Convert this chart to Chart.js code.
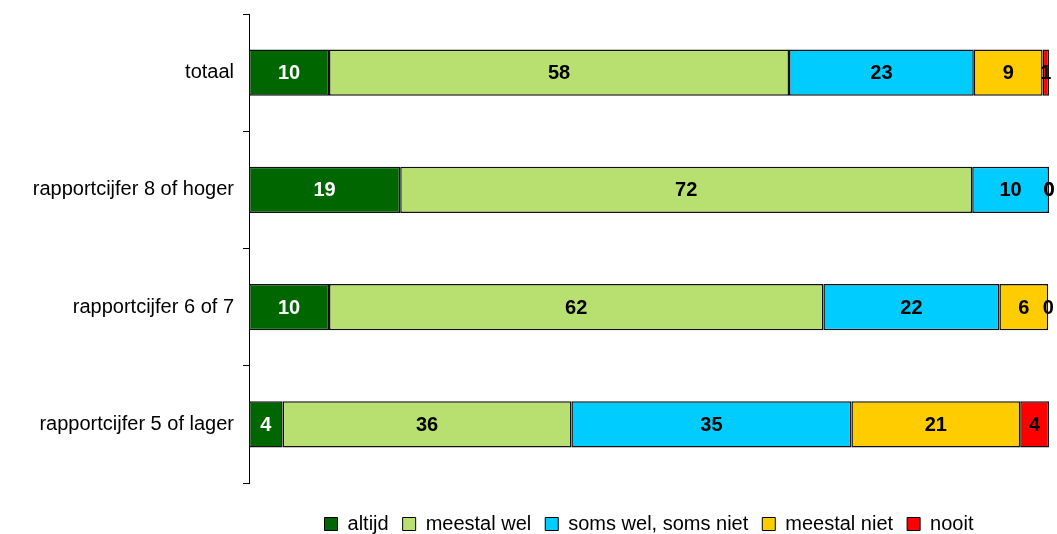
<!DOCTYPE html>
<html>
<head>
<meta charset="utf-8">
<script src="https://cdn.jsdelivr.net/npm/chart.js@4/dist/chart.umd.min.js"></script>
<style>
  html, body { margin: 0; padding: 0; background: #fff; }
  #wrap { width: 1057px; height: 534px; position: relative; }
</style>
</head>
<body>
<div id="wrap"><canvas id="barChart"></canvas></div>
<script>
const categories = ["totaal", "rapportcijfer 8 of hoger", "rapportcijfer 6 of 7", "rapportcijfer 5 of lager"];
const seriesNames = ["altijd", "meestal wel", "soms wel, soms niet", "meestal niet", "nooit"];
const altijd = [10.0, 18.9, 10.0, 4.2];
const meestalWel = [57.5, 71.5, 61.8, 36.1];
const somsWel = [23.1, 9.6, 22.0, 35.0];
const meestalNiet = [8.6, 0, 6.1, 21.1];
const nooit = [0.8, 0, 0, 3.6];
const seriesColors = ["#006600", "#b8e070", "#00ccff", "#ffcc00", "#ff0000"];
const labelColors = ["#ffffff", "#000000", "#000000", "#000000", "#000000"];

const fontFamily = "'Liberation Sans', Arial, sans-serif";

const values = [altijd, meestalWel, somsWel, meestalNiet, nooit];

function makeDataset(name, i) {
    return {
        label: name,
        data: values[i],
        backgroundColor: seriesColors[i],
        borderColor: "#111111",
        borderWidth: 1.5,
        borderSkipped: false,
        categoryPercentage: 1,
        barPercentage: 0.393
    };
}

// draw the rounded value in the middle of each segment
const segmentLabels = {
    id: "segmentLabels",
    afterDatasetsDraw(chart) {
        const ctx = chart.ctx;
        ctx.save();
        ctx.font = "bold 20px " + fontFamily;
        ctx.textAlign = "center";
        ctx.textBaseline = "middle";
        chart.data.datasets.forEach((ds, i) => {
            const meta = chart.getDatasetMeta(i);
            meta.data.forEach((bar, j) => {
                const cx = (bar.x + bar.base) / 2;
                ctx.fillStyle = labelColors[i];
                ctx.fillText(String(Math.round(ds.data[j])), cx, bar.y + 1);
            });
        });
        ctx.restore();
    }
};

const chart = new Chart(document.getElementById("barChart"), {
    type: "bar",
    data: {
        labels: categories,
        datasets: seriesNames.map((n, i) => makeDataset(n, i))
    },
    options: {
        indexAxis: "y",
        responsive: true,
        maintainAspectRatio: false,
        animation: false,
        layout: { padding: { left: 0, right: 8, top: 14, bottom: -10 } },
        scales: {
            x: {
                stacked: true,
                min: 0,
                max: 100,
                grid: { display: false },
                border: { display: false },
                ticks: { display: false },
                // empty strip between the bars and the legend
                afterFit(scale) { scale.height = 17; }
            },
            y: {
                stacked: true,
                border: { display: true, color: "#000000", width: 1 },
                grid: {
                    drawOnChartArea: false,
                    drawTicks: true,
                    tickLength: 6,
                    color: "#000000",
                    offset: true
                },
                ticks: {
                    color: "#000000",
                    padding: 9,
                    font: { family: fontFamily, size: 20 }
                },
                afterFit(scale) {
                    scale.width = 249;
                    scale.paddingTop = 0;
                    scale.paddingBottom = 0;
                }
            }
        },
        plugins: {
            legend: {
                position: "bottom",
                fullSize: false,
                labels: {
                    color: "#000000",
                    boxWidth: 13,
                    boxHeight: 13,
                    padding: 14,
                    font: { family: fontFamily, size: 20 },
                    generateLabels(c) {
                        return c.data.datasets.map((ds, i) => ({
                            text: ds.label,
                            fillStyle: seriesColors[i],
                            strokeStyle: "#000000",
                            lineWidth: 1,
                            hidden: false,
                            datasetIndex: i
                        }));
                    }
                }
            },
            tooltip: { enabled: false }
        }
    },
    plugins: [segmentLabels]
});
</script>
</body>
</html>
